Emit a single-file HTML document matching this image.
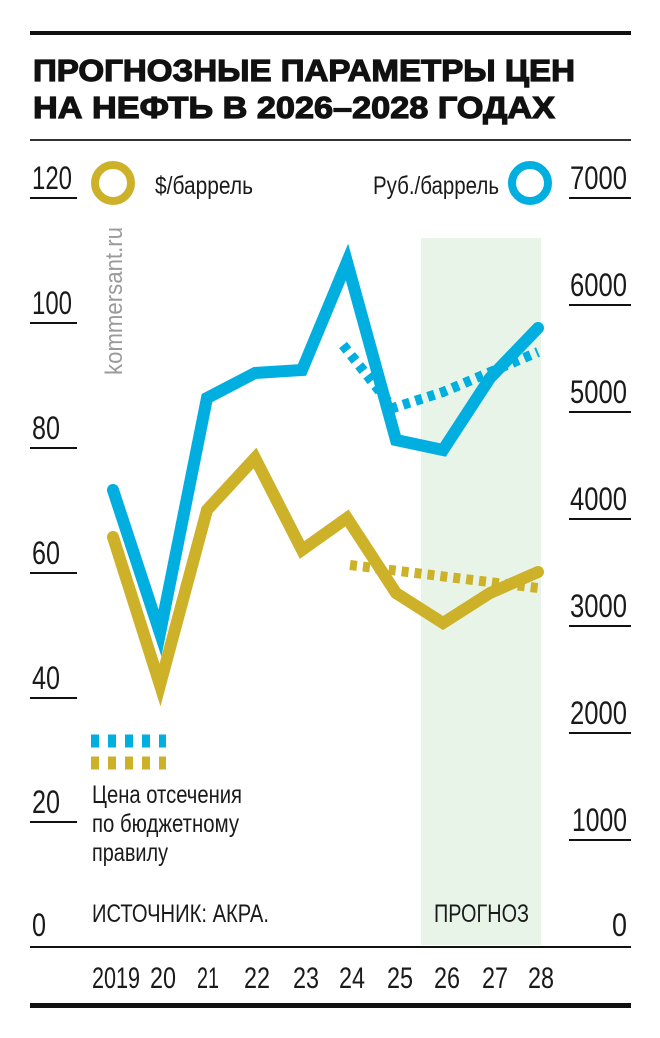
<!DOCTYPE html>
<html><head><meta charset="utf-8"><style>
html,body{margin:0;padding:0;background:#fff;}
svg{display:block;}
text{font-family:"Liberation Sans",sans-serif;fill:#1a1a1a;}
</style></head><body>
<svg width="660" height="1038" viewBox="0 0 660 1038">
<rect x="0" y="0" width="660" height="1038" fill="#fff"/>
<rect x="30" y="31" width="601" height="4" fill="#111"/>
<text x="33" y="81" font-size="31" font-weight="bold" stroke="#111" stroke-width="1.2" style="fill:#111" textLength="542" lengthAdjust="spacingAndGlyphs">ПРОГНОЗНЫЕ ПАРАМЕТРЫ ЦЕН</text>
<text x="33" y="118" font-size="31" font-weight="bold" stroke="#111" stroke-width="1.2" style="fill:#111" textLength="522" lengthAdjust="spacingAndGlyphs">НА НЕФТЬ В 2026–2028 ГОДАХ</text>
<rect x="30" y="139" width="601" height="2" fill="#333"/>

<rect x="421" y="238" width="120" height="707" fill="#e9f4e8"/>

<g fill="#111">
<rect x="30" y="197" width="47" height="2"/>
<rect x="30" y="322" width="47" height="2"/>
<rect x="30" y="447" width="47" height="2"/>
<rect x="30" y="572" width="47" height="2"/>
<rect x="30" y="697" width="47" height="2"/>
<rect x="30" y="821" width="47" height="2"/>
<rect x="569" y="197" width="62" height="2"/>
<rect x="569" y="304" width="62" height="2"/>
<rect x="569" y="411" width="62" height="2"/>
<rect x="569" y="518" width="62" height="2"/>
<rect x="569" y="625" width="62" height="2"/>
<rect x="569" y="732" width="62" height="2"/>
<rect x="569" y="839" width="62" height="2"/>
<rect x="30" y="946" width="601" height="2"/>
<rect x="30" y="1003" width="601" height="5"/>
</g>
<g font-size="32">
<text x="32" y="189" textLength="40" lengthAdjust="spacingAndGlyphs">120</text>
<text x="32" y="314" textLength="40" lengthAdjust="spacingAndGlyphs">100</text>
<text x="32" y="439" textLength="28" lengthAdjust="spacingAndGlyphs">80</text>
<text x="32" y="564" textLength="28" lengthAdjust="spacingAndGlyphs">60</text>
<text x="32" y="689" textLength="28" lengthAdjust="spacingAndGlyphs">40</text>
<text x="32" y="813" textLength="28" lengthAdjust="spacingAndGlyphs">20</text>
<text x="32" y="936" textLength="14" lengthAdjust="spacingAndGlyphs">0</text>
<text x="570" y="189" textLength="57" lengthAdjust="spacingAndGlyphs">7000</text>
<text x="570" y="296" textLength="57" lengthAdjust="spacingAndGlyphs">6000</text>
<text x="570" y="403" textLength="57" lengthAdjust="spacingAndGlyphs">5000</text>
<text x="570" y="510" textLength="57" lengthAdjust="spacingAndGlyphs">4000</text>
<text x="570" y="617" textLength="57" lengthAdjust="spacingAndGlyphs">3000</text>
<text x="570" y="724" textLength="57" lengthAdjust="spacingAndGlyphs">2000</text>
<text x="572" y="831" textLength="55" lengthAdjust="spacingAndGlyphs">1000</text>
<text x="612" y="936" textLength="15" lengthAdjust="spacingAndGlyphs">0</text>
</g>

<circle cx="113" cy="183" r="18" fill="none" stroke="#cdb128" stroke-width="8"/>
<text x="155" y="194" font-size="25" textLength="98" lengthAdjust="spacingAndGlyphs">$/баррель</text>
<circle cx="530" cy="183" r="18" fill="none" stroke="#00aee0" stroke-width="8"/>
<text x="373" y="194" font-size="25" textLength="126" lengthAdjust="spacingAndGlyphs">Руб./баррель</text>
<text transform="translate(122,375) rotate(-90)" font-size="24" style="fill:#9a9a9a" textLength="148" lengthAdjust="spacingAndGlyphs">kommersant.ru</text>

<polyline points="113,490 160,633 207,398 255,373 302,370 347,262 396,440 443,450 490,378 538,328" fill="none" stroke="#00aee0" stroke-width="12" stroke-linejoin="miter" stroke-linecap="round"/>
<polyline points="343,345 393,408 443,392 538,352" fill="none" stroke="#00aee0" stroke-width="10" stroke-dasharray="7,6"/>
<polyline points="113,537 160,685 207,510 255,458 302,550 347,518 396,593 443,623 490,593 538,572" fill="none" stroke="#cdb128" stroke-width="12" stroke-linejoin="miter" stroke-linecap="round"/>
<polyline points="350,565 538,588" fill="none" stroke="#cdb128" stroke-width="10" stroke-dasharray="7,6"/>

<line x1="91" y1="741" x2="166" y2="741" stroke="#00aee0" stroke-width="13" stroke-dasharray="8,9"/>
<line x1="91" y1="763" x2="166" y2="763" stroke="#cdb128" stroke-width="13" stroke-dasharray="8,9"/>
<g font-size="25">
<text x="92" y="803" textLength="150" lengthAdjust="spacingAndGlyphs">Цена отсечения</text>
<text x="92" y="832" textLength="147" lengthAdjust="spacingAndGlyphs">по бюджетному</text>
<text x="92" y="861" textLength="76" lengthAdjust="spacingAndGlyphs">правилу</text>
<text x="92" y="922" textLength="177" lengthAdjust="spacingAndGlyphs">ИСТОЧНИК: АКРА.</text>
<text x="434" y="922" textLength="95" lengthAdjust="spacingAndGlyphs">ПРОГНОЗ</text>
</g>
<g font-size="30">
<text x="92" y="988" textLength="48" lengthAdjust="spacingAndGlyphs">2019</text>
<text x="150" y="988" textLength="26" lengthAdjust="spacingAndGlyphs">20</text>
<text x="197" y="988" textLength="22" lengthAdjust="spacingAndGlyphs">21</text>
<text x="244" y="988" textLength="26" lengthAdjust="spacingAndGlyphs">22</text>
<text x="293" y="988" textLength="26" lengthAdjust="spacingAndGlyphs">23</text>
<text x="339" y="988" textLength="26" lengthAdjust="spacingAndGlyphs">24</text>
<text x="387" y="988" textLength="26" lengthAdjust="spacingAndGlyphs">25</text>
<text x="434" y="988" textLength="26" lengthAdjust="spacingAndGlyphs">26</text>
<text x="482" y="988" textLength="26" lengthAdjust="spacingAndGlyphs">27</text>
<text x="528" y="988" textLength="26" lengthAdjust="spacingAndGlyphs">28</text>
</g>
</svg>
</body></html>
